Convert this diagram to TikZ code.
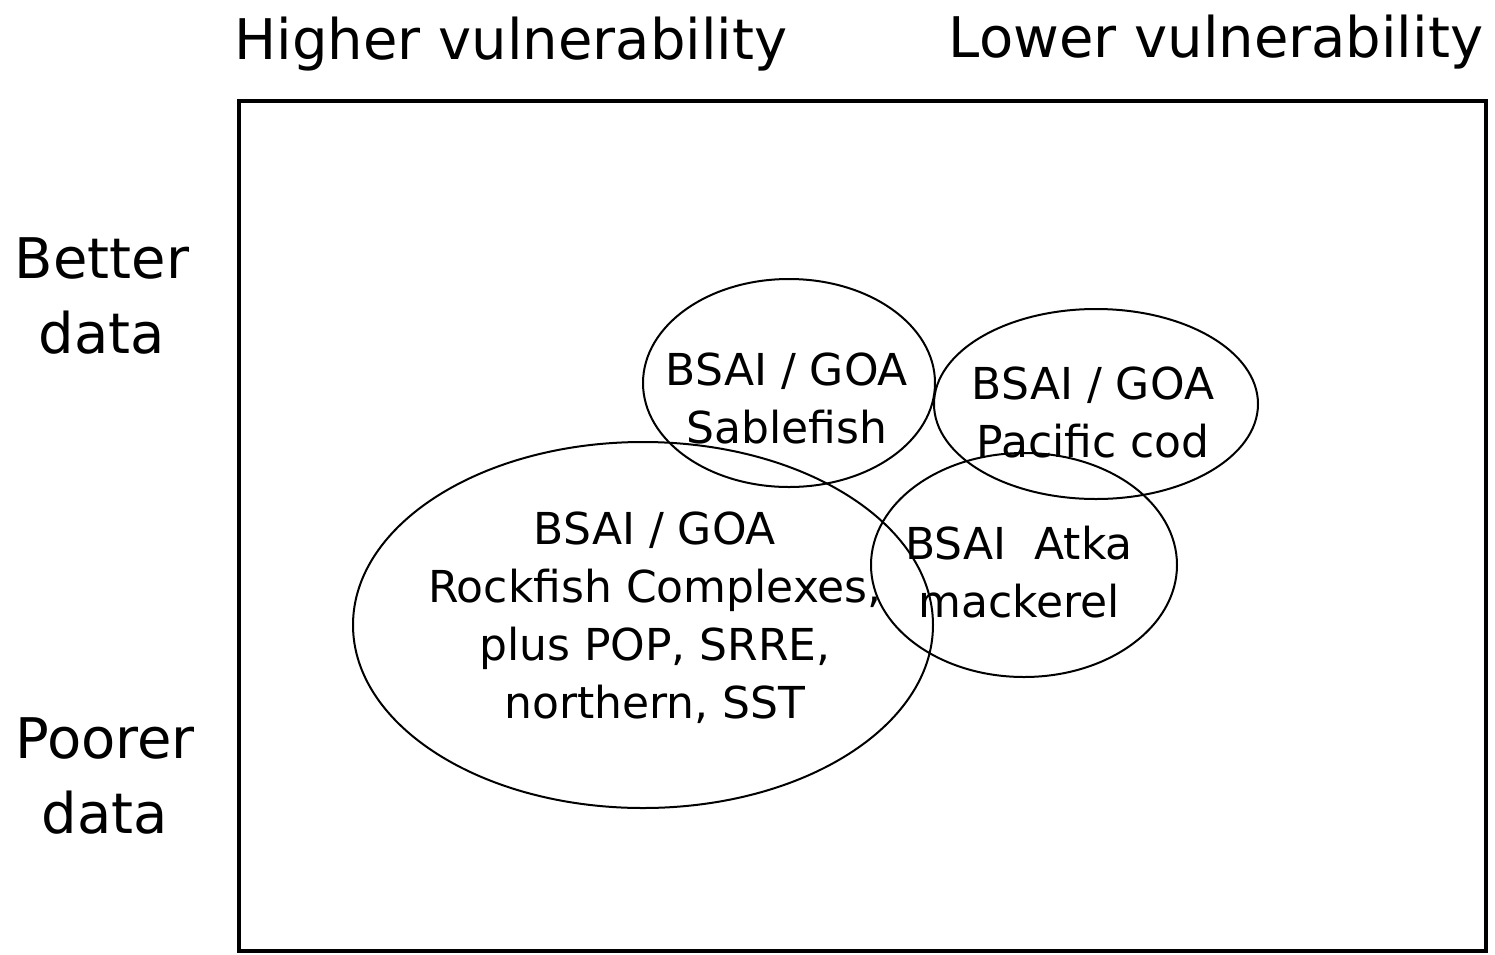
\documentclass[tikz,border=0pt]{standalone}
\usepackage{fontspec}
\setmainfont{DejaVu Sans}
\usetikzlibrary{shapes.geometric}
\begin{document}
\begin{tikzpicture}[x=0.5pt,y=-0.5pt,
  big/.style={font=\fontsize{28}{37.5}\selectfont, align=center, inner sep=0pt},
  lab/.style={font=\fontsize{22}{29}\selectfont, align=center, inner sep=0pt},
  oval/.style={ellipse, draw, line width=1pt, inner sep=0pt}]
\useasboundingbox (0,0) rectangle (1495,954);
\draw[line width=2pt] (239,101) rectangle (1486,951);
\node[big] (hv) at (511,44) {Higher vulnerability};
\node[big] (lv) at (1216,42) {Lower vulnerability};
\node[big] (bd) at (102,296) {Better\\data};
\node[big] (pd) at (105,776) {Poorer\\data};
\node[oval, minimum width=146pt, minimum height=104pt] (e1) at (789,383) {};
\node[oval, minimum width=162pt, minimum height=95pt] (e2) at (1096,404) {};
\node[oval, minimum width=153pt, minimum height=112pt] (e3) at (1024,565) {};
\node[oval, minimum width=290pt, minimum height=183pt] (e4) at (643,625) {};
\node[lab] (t1) at (787,398) {BSAI / GOA\\Sablefish};
\node[lab] (t2) at (1093,412) {BSAI / GOA\\Pacific cod};
\node[lab] (t3) at (1019,572) {BSAI\ \ Atka\\mackerel};
\node[lab] (t4) at (655,618) {BSAI / GOA\\Rockfish Complexes,\\plus POP, SRRE,\\northern, SST};
\end{tikzpicture}
\end{document}
